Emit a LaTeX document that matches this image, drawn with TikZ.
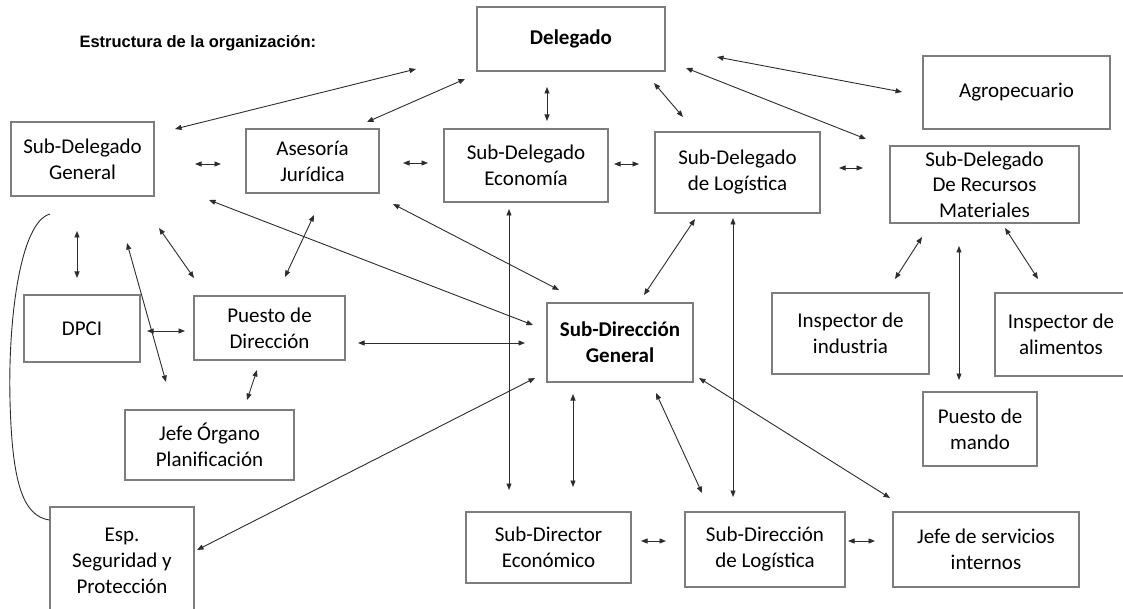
\documentclass[tikz,border=0pt]{standalone}
\usepackage{fontspec}
\setmainfont{Carlito}
\newfontfamily\titlefont{Liberation Sans}
\usetikzlibrary{arrows.meta}
\definecolor{boxgray}{RGB}{125,125,125}
\definecolor{arrgray}{RGB}{45,45,45}
\tikzset{
  box/.style={draw=boxgray, line width=1.3pt, inner sep=0pt, align=center,
    font=\fontsize{21}{26}\selectfont, text=black},
  boldbox/.style={box, font=\fontsize{21}{26}\selectfont\bfseries},
  conn/.style={draw=arrgray, line width=0.9pt,
    {Triangle[length=6.5pt,width=5pt]}-{Triangle[length=6.5pt,width=5pt]}},
  bracket/.style={draw=arrgray, line width=0.9pt}
}
\begin{document}
\begin{tikzpicture}[x=1pt,y=-1pt]
\useasboundingbox[fill=white] (0,0) rectangle (1123,609);

\node[anchor=west, font=\titlefont\bfseries\fontsize{16.5}{20}\selectfont] (title) at (76,43) {Estructura de la organización:};

% boxes
\node[boldbox, minimum width=188, minimum height=64] (del) at (571,39) {Delegado};
\node[box, minimum width=187, minimum height=73] (agro) at (1016.5,92.5) {Agropecuario};
\node[box, minimum width=143, minimum height=74] (sdg) at (82.5,159) {Sub-Delegado\\General};
\node[box, minimum width=133, minimum height=64] (ases) at (312.5,161) {Asesoría\\Jurídica};
\node[box, minimum width=164, minimum height=73] (eco) at (526,165.5) {Sub-Delegado\\Economía};
\node[box, minimum width=165, minimum height=81] (sdlog) at (737.5,172.5) {Sub-Delegado\\de Logística};
\node[box, minimum width=189, minimum height=77, font=\fontsize{21}{25.5}\selectfont] (rec) at (984.5,184.5) {Sub-Delegado\\De Recursos\\Materiales};
\node[box, minimum width=116, minimum height=67] (dpci) at (82,328.5) {DPCI};
\node[box, minimum width=151, minimum height=64] (pdir) at (269.5,328) {Puesto de\\Dirección};
\node[box, minimum width=169, minimum height=70] (jorg) at (209.5,445) {Jefe Órgano\\Planificación};
\node[box, minimum width=144, minimum height=107] (esp) at (122,560.5) {Esp.\\Seguridad y\\Protección};
\node[boldbox, minimum width=146, minimum height=79] (sdirg) at (620,342.5) {Sub-Dirección\\General};
\node[box, minimum width=157, minimum height=81] (insind) at (850.5,333.5) {Inspector de\\industria};
\node[box, minimum width=132, minimum height=83] (insal) at (1061,334.5) {Inspector de\\alimentos};
\node[box, minimum width=114, minimum height=74] (pmando) at (980,429) {Puesto de\\mando};
\node[box, minimum width=165, minimum height=71] (sdeco) at (548.5,547.5) {Sub-Director\\Económico};
\node[box, minimum width=160, minimum height=75] (sdirlog) at (765,549.5) {Sub-Dirección\\de Logística};
\node[box, minimum width=186, minimum height=75] (jserv) at (986,549.5) {Jefe de servicios\\internos};

% connectors (free-floating double arrows between named end points)
\foreach \nm/\xa/\ya/\xb/\yb in {
  sdgdel/175/129/416/69,
  asesdel/367/122/465/79,
  deleco/547/87/547/121,
  delsdlog/654/83/683/117,
  delagro/717/57/902/92,
  delrec/686/68/866/139,
  sdgases/195/164/221/164,
  aseseco/403/163/428/163,
  ecosdlog/614/164/639/164,
  sdlogrec/839/168/863/168,
  sdgdpci/77/231/77/278,
  sdgjorg/127/243/166/382,
  sdgpdir/159/228/194/278,
  asespdir/314/215/285/277,
  sdgsdirg/209/200/533/325,
  asessdirg/393/204/559/290,
  ecosdeco/509/209/509/490,
  sdlogsdirg/695/219/644/295,
  sdlogsdirlog/733/218/733/497,
  recinsind/922/237/895/279,
  recpmando/959/246/959/380,
  recinsal/1005/228/1038/279,
  dpcipdir/147/331/185/331,
  pdirjorg/257/370/247/400,
  pdirsdirg/358/343/525/343,
  espsdirg/197/550/535/378,
  sdirgsdeco/573/394/573/487,
  sdirgsdirlog/656/393/702/493,
  sdirgjserv/699/378/890/498,
  sdecosdirlog/641/541/666/541,
  sdirlogjserv/848/541/875/541} {
  \coordinate (\nm-a) at (\xa,\ya);
  \coordinate (\nm-b) at (\xb,\yb);
  \draw[conn] (\nm-a) -- (\nm-b);
}

% bracket curve on the left
\coordinate (brtop) at (50,214);
\coordinate (brmid) at (10,400);
\coordinate (brbot) at (esp.west |- 0,520);
\draw[bracket] (brtop) .. controls (20,222) and (8,320) .. (brmid)
  .. controls (12,480) and (22,516) .. (brbot);
\end{tikzpicture}
\end{document}
